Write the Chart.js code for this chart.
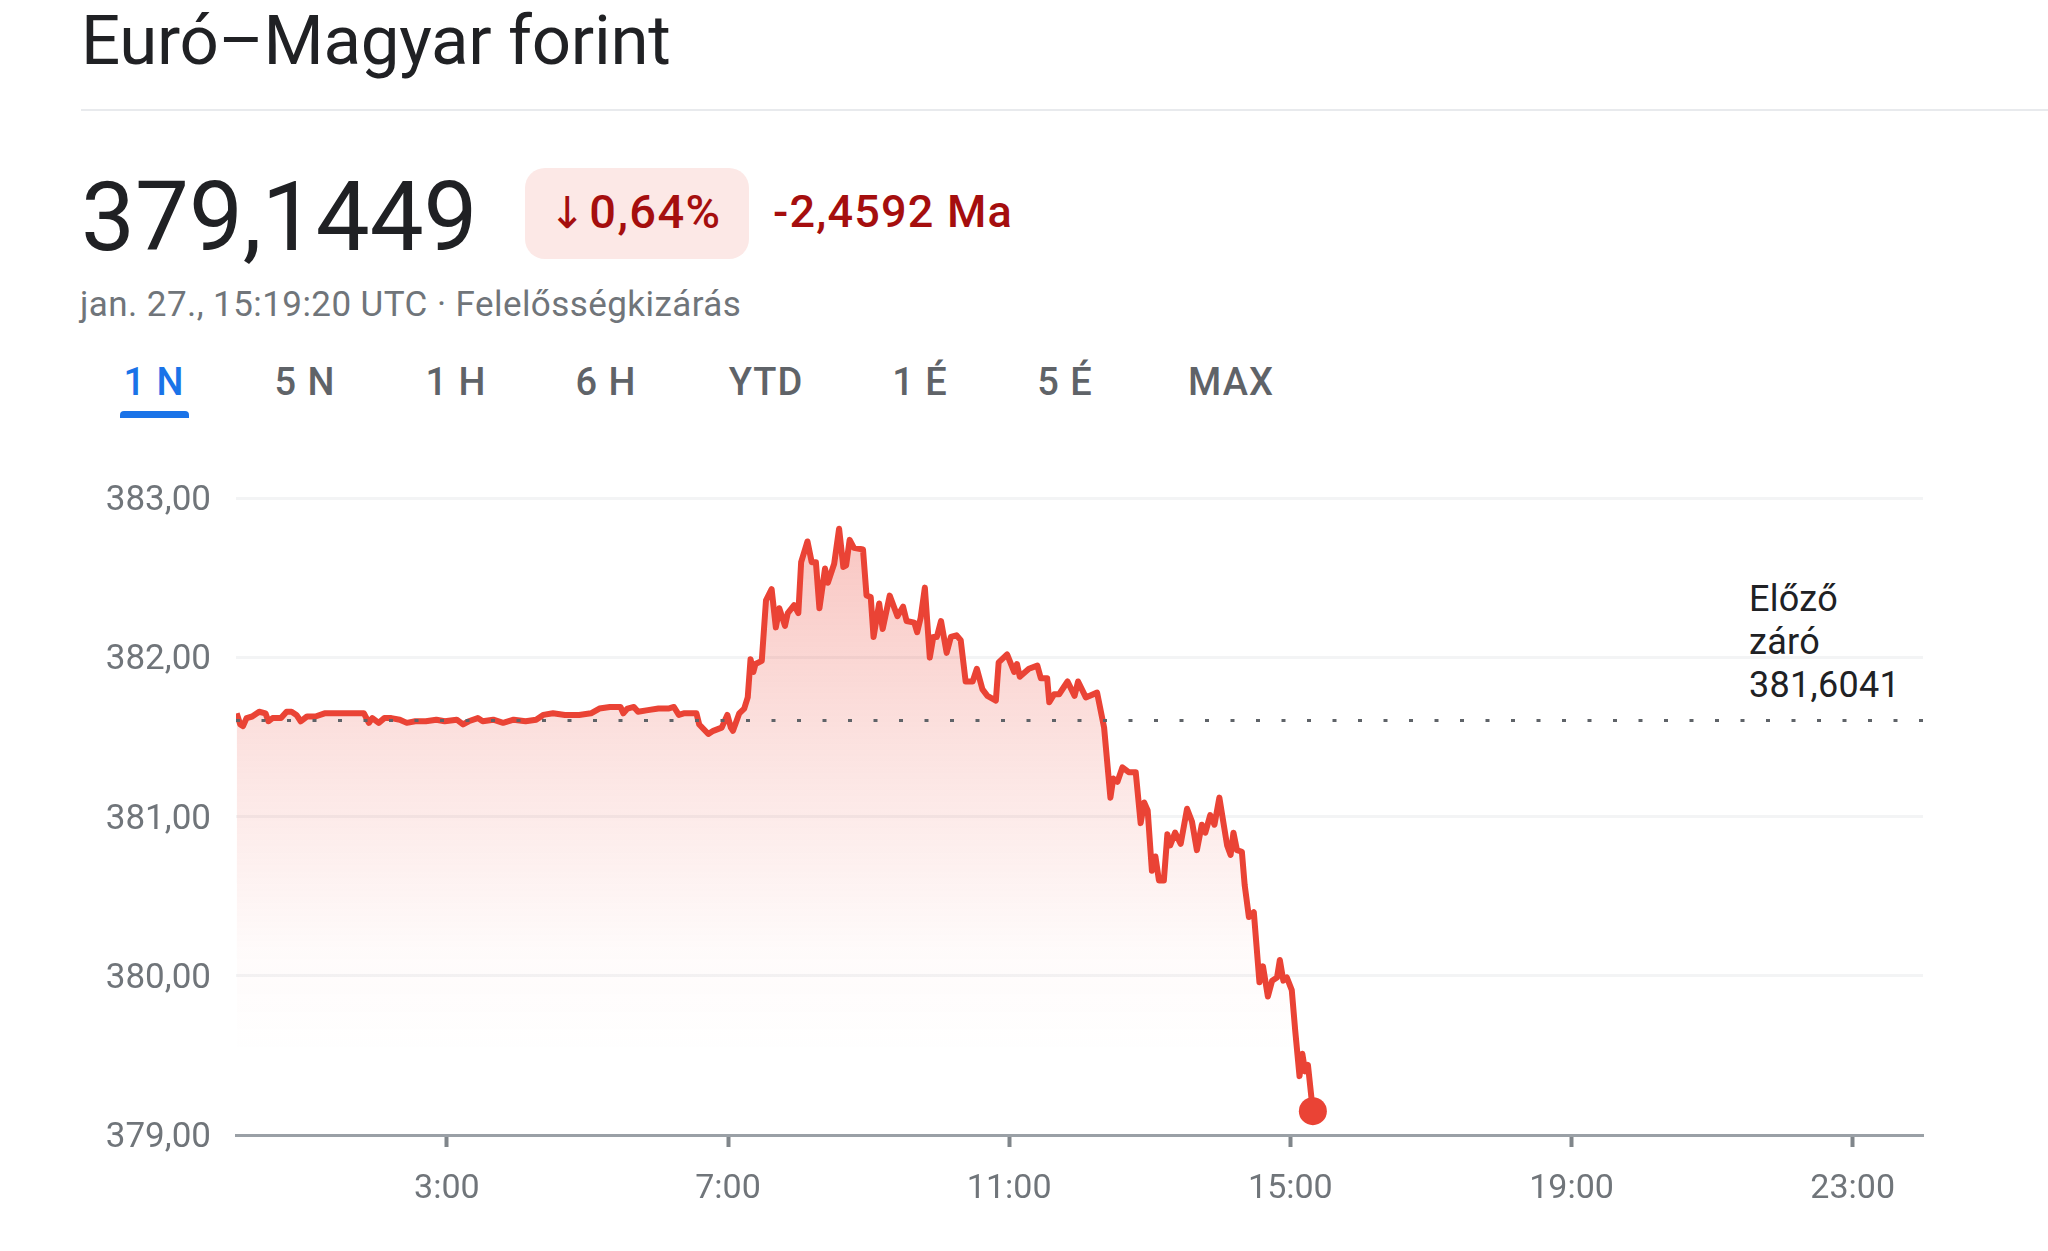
<!DOCTYPE html>
<html lang="hu">
<head>
<meta charset="utf-8">
<title>Euró–Magyar forint</title>
<script src="https://cdn.jsdelivr.net/npm/chart.js@4"></script>
<style>
  html, body { margin: 0; width: 2048px; height: 1251px; overflow: hidden; background: #fff; font-family: Roboto, sans-serif; }
  .txt { position: absolute; white-space: nowrap; line-height: 1; }
  #title { left: 81px; top: 6px; font-size: 69px; color: #202124; letter-spacing: -0.3px; }
  #rule { position: absolute; left: 81px; right: 0; top: 109px; height: 2px; background: #e8eaed; }
  #price { left: 81px; top: 169px; font-size: 96px; color: #202124; }
  #badge { position: absolute; left: 525px; top: 168px; width: 224px; height: 91px; border-radius: 20px; background: #fce8e6; }
  #pct { left: 549px; top: 188px; font-size: 47px; color: #a50e0e; font-weight: 500; letter-spacing: 1.4px; }
  #pct span { font-family: "DejaVu Sans", sans-serif; font-weight: 400; font-size: 44px; margin-right: 2px; }
  #diff { left: 773px; top: 189px; font-size: 45px; color: #a50e0e; font-weight: 500; letter-spacing: 1.2px; }
  #sub { left: 80px; top: 287px; font-size: 35px; color: #70757a; letter-spacing: 0.43px; }
  .tab { top: 363px; font-size: 38px; color: #5f6368; font-weight: 500; letter-spacing: 1px; transform: translateX(-50%); }
  #underline { position: absolute; left: 120px; top: 411px; width: 69px; height: 7px; background: #1a73e8; border-radius: 4px 4px 0 0; }
  #prev { position: absolute; left: 1749px; top: 578px; font-size: 36px; line-height: 43px; color: #202124; letter-spacing: 0.3px; }
  #wrap { position: absolute; left: 0; top: 470px; width: 2048px; height: 781px; }
</style>
</head>
<body>
<div class="txt" id="title">Euró–Magyar forint</div>
<div id="rule"></div>
<div class="txt" id="price">379,1449</div>
<div id="badge"></div>
<div class="txt" id="pct"><span>↓</span>0,64%</div>
<div class="txt" id="diff">-2,4592 Ma</div>
<div class="txt" id="sub">jan. 27., 15:19:20 UTC · Felelősségkizárás</div>
<div id="tabs"></div>
<div id="underline"></div>
<div id="prev">Előző<br>záró<br>381,6041</div>
<div id="wrap"><canvas id="chart" width="2048" height="781"></canvas></div>
<script>
// tabs above the chart
var tabNames = ['1 N', '5 N', '1 H', '6 H', 'YTD', '1 É', '5 É', 'MAX'];
var tabCenters = [154, 305, 456, 606, 766, 920, 1065, 1231];

// time of day in hours
var hours = [0.01,0.06,0.1,0.15,0.23,0.33,0.42,0.46,0.52,0.64,0.72,0.79,0.86,0.92,1.01,1.13,1.26,1.45,1.65,1.82,1.89,1.94,2.03,2.11,2.21,2.33,2.43,2.55,2.7,2.85,2.97,3.14,3.23,3.31,3.44,3.51,3.66,3.8,3.95,4.12,4.27,4.37,4.51,4.68,4.88,5.05,5.17,5.32,5.47,5.51,5.57,5.66,5.72,5.86,6.01,6.15,6.23,6.3,6.37,6.55,6.59,6.72,6.79,6.91,6.99,7.04,7.07,7.16,7.23,7.28,7.32,7.36,7.39,7.48,7.54,7.62,7.68,7.73,7.81,7.85,7.94,8,8.04,8.13,8.19,8.25,8.3,8.38,8.42,8.51,8.58,8.64,8.68,8.73,8.79,8.92,8.97,9.03,9.07,9.15,9.2,9.3,9.41,9.49,9.54,9.65,9.69,9.74,9.8,9.87,9.92,9.97,10.03,10.11,10.17,10.25,10.31,10.38,10.48,10.54,10.62,10.69,10.81,10.85,10.97,11.07,11.11,11.15,11.28,11.4,11.45,11.54,11.57,11.64,11.71,11.83,11.93,11.98,12.09,12.25,12.35,12.44,12.48,12.54,12.61,12.7,12.8,12.87,12.92,12.97,13.03,13.08,13.13,13.2,13.25,13.29,13.36,13.44,13.53,13.6,13.67,13.74,13.79,13.86,13.92,13.99,14.1,14.15,14.19,14.24,14.31,14.35,14.41,14.48,14.56,14.61,14.68,14.74,14.81,14.85,14.9,14.95,15.02,15.07,15.13,15.17,15.21,15.25,15.32];
// EUR/HUF rate
var rates = [381.65,381.58,381.57,381.62,381.63,381.66,381.65,381.6,381.62,381.62,381.66,381.66,381.64,381.6,381.63,381.63,381.65,381.65,381.65,381.65,381.59,381.62,381.59,381.62,381.62,381.61,381.59,381.6,381.6,381.61,381.6,381.61,381.58,381.6,381.62,381.6,381.61,381.59,381.61,381.6,381.61,381.64,381.65,381.64,381.64,381.65,381.68,381.69,381.69,381.65,381.68,381.69,381.66,381.67,381.68,381.68,381.69,381.64,381.65,381.65,381.58,381.52,381.54,381.56,381.64,381.56,381.54,381.65,381.68,381.75,381.99,381.91,381.96,381.98,382.36,382.43,382.19,382.31,382.2,382.28,382.33,382.28,382.6,382.73,382.6,382.6,382.31,382.56,382.47,382.59,382.81,382.57,382.58,382.74,382.69,382.68,382.39,382.38,382.13,382.34,382.18,382.39,382.26,382.32,382.23,382.22,382.16,382.25,382.44,382,382.13,382.13,382.23,382.03,382.13,382.14,382.11,381.85,381.85,381.93,381.8,381.76,381.73,381.97,382.02,381.91,381.96,381.88,381.93,381.95,381.87,381.87,381.72,381.77,381.77,381.85,381.76,381.85,381.75,381.78,381.56,381.12,381.24,381.22,381.31,381.28,381.28,380.96,381.09,381.04,380.66,380.75,380.6,380.6,380.89,380.82,380.9,380.83,381.05,380.97,380.79,380.95,380.9,381.01,380.95,381.12,380.82,380.76,380.9,380.79,380.78,380.57,380.37,380.4,379.96,380.06,379.87,379.97,379.99,380.1,379.97,379.99,379.91,379.65,379.37,379.51,379.4,379.44,379.15];

var prevClose = 381.6041;
var prevHours = [0, 24];

var xTickHours = [3, 7, 11, 15, 19, 23];
var yTickValues = [379, 380, 381, 382, 383];

tabNames.forEach(function (name, i) {
    var d = document.createElement('div');
    d.className = 'txt tab';
    d.textContent = name;
    d.style.left = tabCenters[i] + 'px';
    if (i === 0) d.style.color = '#1a73e8';
    document.getElementById('tabs').appendChild(d);
});

function areaFill(context) {
    var chart = context.chart;
    if (!chart.chartArea) return 'rgba(234,67,53,0.2)';
    var y = chart.scales.y;
    var g = chart.ctx.createLinearGradient(0, y.getPixelForValue(382.8), 0, y.getPixelForValue(379.5));
    g.addColorStop(0, 'rgba(234,67,53,0.30)');
    g.addColorStop(0.5, 'rgba(234,67,53,0.12)');
    g.addColorStop(0.8, 'rgba(234,67,53,0.025)');
    g.addColorStop(1, 'rgba(234,67,53,0)');
    return g;
}

// y labels sit slightly below their grid lines in the original
var nudgeYLabels = {
    id: 'nudgeYLabels',
    beforeDraw: function (chart) {
        chart.scales.y.getLabelItems().forEach(function (item) {
            item.options.translation[1] += 3;
        });
    }
};

var lastIndex = hours.length - 1;

new Chart(document.getElementById('chart').getContext('2d'), {
    type: 'line',
    plugins: [nudgeYLabels],
    data: {
        datasets: [
            {
                data: prevHours.map(function (h) { return { x: h, y: prevClose }; }),
                borderColor: '#5f6368',
                borderWidth: 3,
                borderDash: [4, 21.5],
                pointRadius: 0,
                fill: false,
                order: 0
            },
            {
                data: hours.map(function (h, i) { return { x: h, y: rates[i] }; }),
                borderColor: '#ea4335',
                borderWidth: 6,
                borderJoinStyle: 'round',
                backgroundColor: areaFill,
                pointBackgroundColor: '#ea4335',
                pointBorderWidth: 0,
                pointRadius: function (ctx) { return ctx.dataIndex === lastIndex ? 14 : 0; },
                tension: 0,
                fill: 'start',
                order: 1
            }
        ]
    },
    options: {
        responsive: false,
        animation: false,
        layout: { padding: { top: 28.5, right: 125, bottom: 16, left: 0 } },
        plugins: { legend: { display: false }, tooltip: { enabled: false } },
        scales: {
            x: {
                type: 'linear',
                min: 0,
                max: 24,
                afterBuildTicks: function (axis) {
                    axis.ticks = xTickHours.map(function (h) { return { value: h }; });
                },
                afterFit: function (axis) { axis.height = 100; axis.paddingLeft = 0; axis.paddingRight = 0; },
                border: { color: '#9aa0a6', width: 3 },
                grid: { drawOnChartArea: false, drawTicks: true, tickLength: 12, tickWidth: 4, tickColor: '#80868b' },
                ticks: {
                    color: '#70757a',
                    font: { family: 'Roboto', size: 34 },
                    padding: 22,
                    maxRotation: 0,
                    callback: function (v) { return v + ':00'; }
                }
            },
            y: {
                min: 379,
                max: 383,
                afterBuildTicks: function (axis) {
                    axis.ticks = yTickValues.map(function (v) { return { value: v }; });
                },
                afterFit: function (axis) { axis.width = 236; axis.paddingTop = 0; axis.paddingBottom = 0; },
                border: { display: false },
                grid: { color: '#f3f4f5', lineWidth: 3, drawTicks: false },
                ticks: {
                    color: '#70757a',
                    font: { family: 'Roboto', size: 35 },
                    padding: 25,
                    callback: function (v) { return v.toFixed(2).replace('.', ','); }
                }
            }
        }
    }
});
</script>
</body>
</html>
